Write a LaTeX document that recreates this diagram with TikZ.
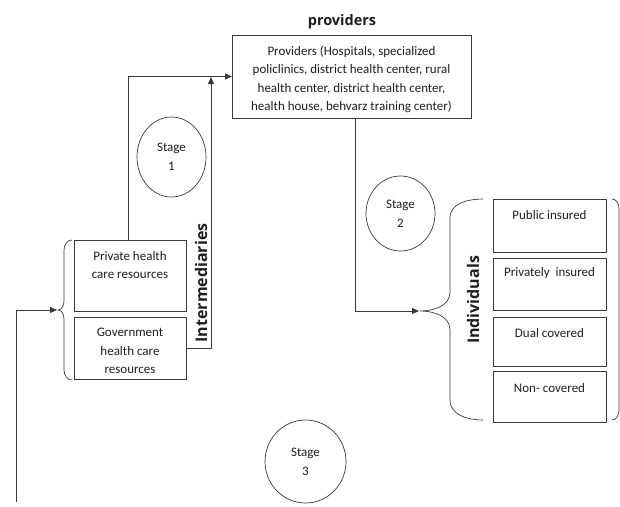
\documentclass[tikz,border=0pt]{standalone}
\usepackage{fontspec}
\setmainfont{Carlito}
\newfontfamily\headfont{Open Sans}
\usetikzlibrary{arrows.meta,shapes.geometric}
\definecolor{ln}{HTML}{3A3A3A}
\definecolor{tx}{HTML}{1E1E1E}
\begin{document}
\begin{tikzpicture}[x=1pt,y=-1pt,
  every node/.style={inner sep=0pt,outer sep=0pt,text=tx},
  body/.style={font=\fontsize{13}{18.3}\selectfont,align=center},
  boxx/.style={draw=ln,line width=0.8pt,rectangle},
  stagex/.style={draw=ln,line width=0.7pt,ellipse,font=\fontsize{13}{19}\selectfont,align=center},
  head/.style={font=\headfont\bfseries\fontsize{16}{18}\selectfont},
  conn/.style={draw=ln,line width=1pt},
  arr/.style={conn,-{Triangle[length=7pt,width=6pt]}},
  brc/.style={draw=ln,line width=0.7pt}]
\useasboundingbox (0,0) rectangle (620,506);

% title
\node[head,font=\headfont\bfseries\fontsize{14.5}{17}\selectfont] (title) at (342,22) {providers};

% providers box
\node[boxx,minimum width=239pt,minimum height=83pt] (prov) at (351.5,76.5) {};
\node[body] (provt) at (351.5,79.5) {Providers (Hospitals, specialized\\policlinics, district health center, rural\\health center, district health center,\\health house, behvarz training center)};

% intermediaries boxes
\node[boxx,minimum width=112pt,minimum height=71pt] (priv) at (130,275.5) {};
\node[body] (privt) at (130,265) {Private health\\care resources};
\node[boxx,minimum width=112pt,minimum height=62pt] (gov) at (130,348) {};
\node[body] (govt) at (130,351) {Government\\health care\\resources};
\node[head,rotate=90] (inter) at (201,283) {Intermediaries};

% individuals boxes
\node[boxx,minimum width=113pt,minimum height=53pt] (pub) at (549.5,225.5) {};
\node[body] (pubt) at (549.5,215) {Public insured};
\node[boxx,minimum width=113pt,minimum height=52pt] (pri) at (549.5,284) {};
\node[body] (prit) at (549.5,273) {Privately\ \ insured};
\node[boxx,minimum width=113pt,minimum height=49pt] (dual) at (549.5,341.5) {};
\node[body] (dualt) at (549.5,333) {Dual covered};
\node[boxx,minimum width=113pt,minimum height=51pt] (non) at (549.5,396.5) {};
\node[body] (nont) at (549.5,388) {Non- covered};
\node[head,rotate=90] (indiv) at (473,300) {Individuals};

% stages
\node[stagex,minimum width=69pt,minimum height=80pt] (s1) at (171.5,157) {Stage\\1};
\node[stagex,minimum width=69pt,minimum height=75pt] (s2) at (400.5,213.5) {Stage\\2};
\node[stagex,minimum width=81pt,minimum height=83pt] (s3) at (305.5,461.5) {Stage\\3};

% braces
\draw[brc] (72,240) to[out=180,in=90] (64,250) -- (64,300) to[out=-90,in=0] (58,310)
  to[out=0,in=90] (64,320) -- (64,370) to[out=-90,in=180] (72,380);
\draw[brc] (483,199) to[out=180,in=90] (450,218) -- (450,292) to[out=-90,in=0] (420,311)
  to[out=0,in=90] (450,330) -- (450,400) to[out=-90,in=180] (483,420);
\draw[brc] (612,199) to[out=0,in=90] (619,209) -- (619,410) to[out=-90,in=0] (612,420);

% connectors
\coordinate (tipA) at (57,310);
\coordinate (startA) at (16,502);
\coordinate (tipB) at (211,77);
\coordinate (tipC) at (419,311);
\draw[arr] ([xshift=-2pt]priv.north) |- (prov.west);
\draw[arr] (gov.east) -- (gov.east -| tipB) -- (tipB);
\draw[arr] ([xshift=3.5pt]prov.south) |- (tipC);
\draw[arr] (startA) |- (tipA);
\end{tikzpicture}
\end{document}
